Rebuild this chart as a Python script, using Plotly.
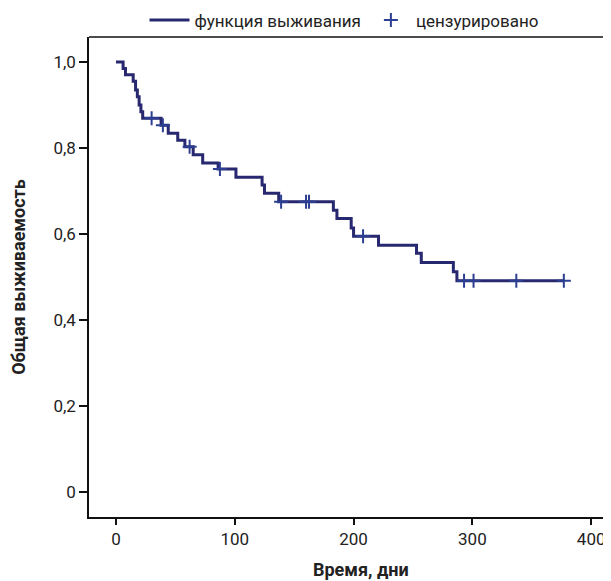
import numpy as np
import plotly.graph_objects as go

# ---- data ----
start_time = 0
event_times = [6, 8, 14.5, 16.5, 18, 19.5, 21, 22.5, 38, 44, 52, 58, 65, 73,
               86, 101, 123, 125, 137, 183, 186, 198, 200, 221, 253, 257, 284, 287]
survival = [0.985, 0.970, 0.955, 0.935, 0.919, 0.900, 0.884, 0.869, 0.853, 0.834,
            0.818, 0.803, 0.784, 0.765, 0.751, 0.732, 0.714, 0.695, 0.675, 0.655,
            0.636, 0.614, 0.595, 0.574, 0.555, 0.534, 0.512, 0.491]
censor_times = [30, 39.5, 62, 87.5, 139, 160, 162.5, 208, 293, 301, 337, 377]

x_ticks = [0, 100, 200, 300, 400]
y_ticks = [0, 0.2, 0.4, 0.6, 0.8, 1.0]
y_tick_labels = ["0", "0,2", "0,4", "0,6", "0,8", "1,0"]

series_names = ["функция выживания", "цензурировано"]
x_title = "Время, дни"
y_title = "Общая выживаемость"

# ---- build step curve ----
end_time = max(censor_times)
xs = [start_time] + event_times + [end_time]
ys = [1.0] + survival + [survival[-1]]

ev = np.array(event_times)
sv = np.array([1.0] + survival)
censor_surv = [float(sv[np.searchsorted(ev, t, side="right")]) for t in censor_times]

line_color = "#27286f"
mark_color = "#2c3f92"
font_family = "Roboto, 'Open Sans', sans-serif"
text_color = "#222222"

W, H = 603, 573  # page body has an 8px margin

fig = go.Figure()
fig.add_trace(go.Scatter(
    x=xs, y=ys, mode="lines", line=dict(color=line_color, width=3, shape="hv"),
    name=series_names[0], hoverinfo="skip"))
fig.add_trace(go.Scatter(
    x=censor_times, y=censor_surv, mode="markers",
    marker=dict(symbol="cross-thin", size=10, line=dict(color=mark_color, width=2),
                color=mark_color),
    name=series_names[1]))

fig.update_layout(
    width=W, height=H,
    margin=dict(l=81, r=0, t=29, b=64, autoexpand=False),
    plot_bgcolor="white", paper_bgcolor="white",
    font=dict(family=font_family, size=17, color=text_color),
    showlegend=True,
    legend=dict(orientation="h", x=336.5 / W, xref="container", xanchor="center",
                y=1 - 12.5 / H, yref="container", yanchor="middle",
                font=dict(size=17, color=text_color), itemwidth=40,
                bgcolor="rgba(0,0,0,0)"),
)
fig.update_xaxes(
    range=[-22.7, 416.7], tickvals=x_ticks, ticktext=[str(v) for v in x_ticks],
    showgrid=False, zeroline=False, automargin=False,
    showline=True, linecolor="#111111", linewidth=1.5, mirror=False,
    ticks="outside", ticklen=6, tickwidth=1.5, tickcolor="#111111",
    tickfont=dict(size=17, color=text_color),
)
fig.update_yaxes(
    range=[-0.058, 1.058], tickvals=y_ticks, ticktext=y_tick_labels,
    showgrid=False, zeroline=False, automargin=False,
    showline=True, linecolor="#111111", linewidth=1.5,
    ticks="outside", ticklen=8, tickwidth=1.5, tickcolor="#111111",
    tickfont=dict(size=17, color=text_color),
    title=dict(text="<b>" + y_title + "</b>", font=dict(size=18, color=text_color), standoff=34),
)
# x-axis title
fig.add_annotation(text="<b>" + x_title + "</b>", xref="paper", yref="paper",
                   x=(353 - 81) / (W - 81), y=(509 - 561) / 480,
                   xanchor="center", yanchor="middle", showarrow=False,
                   font=dict(size=18, color=text_color))
# top frame line across the plot area
fig.add_shape(type="line", xref="paper", yref="paper", x0=0, x1=1, y0=1, y1=1,
              line=dict(color="#111111", width=1.5))

fig.write_html("out.html")
